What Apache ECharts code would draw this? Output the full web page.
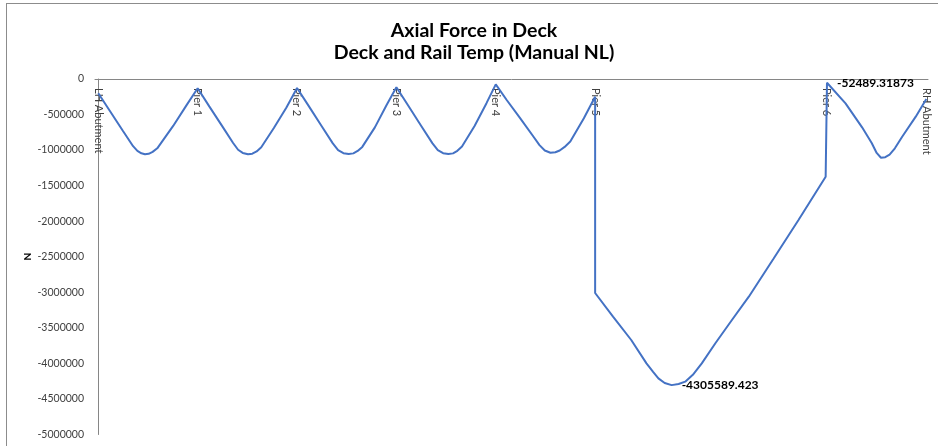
<!DOCTYPE html>
<html>
<head>
<meta charset="utf-8">
<script src="https://cdn.jsdelivr.net/npm/echarts@6/dist/echarts.min.js"></script>
<style>
  html, body { margin: 0; padding: 0; background: #ffffff; overflow: hidden; }
  #frame { position: absolute; left: 6px; top: 3px; width: 960px; height: 470px;
           border-left: 1px solid #8c8c8c; border-top: 1px solid #8c8c8c; }
  #chart { position: absolute; left: 0; top: 0; width: 938px; height: 446px; }
</style>
</head>
<body>
<div id="frame"></div>
<div id="chart"></div>
<script>
// Supports along the deck (chainage in m)
const supportNames = ['LH Abutment', 'Pier 1', 'Pier 2', 'Pier 3', 'Pier 4', 'Pier 5', 'Pier 6', 'RH Abutment'];
const supportStations = [0, 30, 60, 90, 120, 150, 220, 250];

// Deck axial force (N) against chainage (m)
const stations = [
  0, 3.5, 7.5, 10.5, 11.8, 13.0, 14.1, 15.2, 16.4, 17.8, 22.6, 26.7,
  30, 33.5, 37.5, 40.7, 42.2, 43.6, 45.2, 46.5, 47.8, 49.2, 53.0, 56.8,
  60, 63.5, 67.5, 70.8, 72.4, 74.0, 75.6, 77.0, 78.3, 79.7, 83.5, 87.0,
  90, 93.5, 97.5, 100.9, 102.5, 104.1, 105.7, 107.1, 108.4, 109.8, 113.6, 117.2,
  120, 123.3, 127.4, 131.4, 133.2, 134.8, 136.5, 138.0, 139.3, 140.8, 142.5, 146.6,
  150, 150, 155.4, 160.9, 165.5, 167.5, 169.1, 171.0, 173.1, 175.2, 177.2, 179.5,
  182.2, 186.3, 191.3, 196.4, 203.8, 211.4, 219.6,
  220, 225.6, 230.6, 233.5, 235.0, 236.3, 237.6, 238.9, 240.5, 242.7, 246.8, 250
];
const axialForce = [
  -201000, -450000, -735000, -945000, -1012000, -1045000, -1058000, -1052000, -1025000, -975000, -660000, -364000,
  -131000, -385000, -670000, -900000, -995000, -1040000, -1059000, -1050000, -1018000, -960000, -690000, -400000,
  -127000, -378000, -668000, -905000, -1000000, -1043000, -1055000, -1046000, -1012000, -955000, -680000, -370000,
  -117000, -370000, -660000, -905000, -1000000, -1043000, -1055000, -1046000, -1010000, -950000, -660000, -340000,
  -75000, -295000, -553000, -812000, -930000, -1005000, -1037000, -1030000, -1005000, -955000, -880000, -553000,
  -249000, -3010000, -3343000, -3671000, -3999000, -4120000, -4210000, -4275000, -4305589.423, -4290000, -4257000, -4160000,
  -3999000, -3717000, -3390000, -3062000, -2532000, -1983000, -1374000,
  -52489.31873, -342000, -680000, -900000, -1040000, -1107000, -1100000, -1065000, -975000, -812000, -530000, -281000
];

// Values annotated on the chart
const labelledForces = [-52489.31873, -4305589.423];

const yMin = -5000000, yMax = 0, yStep = 500000;
const xMin = -1, xMax = 250.5;

const FONT = 'Lato, "Noto Sans", sans-serif';

const seriesData = stations.map((s, i) => {
  const v = axialForce[i];
  if (labelledForces.indexOf(v) >= 0) {
    return {
      value: [s, v],
      label: {
        show: true, position: 'right', distance: 10,
        formatter: p => String(p.value[1]),
        fontFamily: FONT, fontWeight: 'bold', fontSize: 12, color: '#000000'
      }
    };
  }
  return [s, v];
});

const chart = echarts.init(document.getElementById('chart'), null, { renderer: 'canvas' });
chart.setOption({
  animation: false,
  backgroundColor: 'transparent',
  title: {
    text: 'Axial Force in Deck\nDeck and Rail Temp (Manual NL)',
    left: 469, top: 15, textAlign: 'center',
    textStyle: { fontFamily: FONT, fontWeight: 'bold', fontSize: 19.5, lineHeight: 21.5, color: '#000000' }
  },
  grid: { left: 95, right: 10, top: 79, bottom: 11.5, containLabel: false },
  xAxis: {
    type: 'value', position: 'top', min: xMin, max: xMax,
    axisLine: { show: true, onZero: false, lineStyle: { color: '#868686', width: 1 } },
    axisTick: { show: false },
    splitLine: { show: false },
    axisLabel: {
      show: true, inside: true, rotate: 90, margin: 9,
      customValues: supportStations,
      formatter: v => supportNames[supportStations.indexOf(v)] || '',
      fontFamily: FONT, fontSize: 11, color: '#404040'
    }
  },
  yAxis: {
    type: 'value', min: yMin, max: yMax, interval: yStep,
    name: 'N', nameLocation: 'middle', nameGap: 62, nameMoveOverlap: false,
    nameTextStyle: { fontFamily: FONT, fontWeight: 'bold', fontSize: 10, color: '#000000' },
    axisLine: { show: true, lineStyle: { color: '#868686', width: 1 } },
    axisTick: { show: false },
    splitLine: { show: false },
    axisLabel: {
      margin: 11, fontFamily: FONT, fontSize: 10.5, color: '#404040',
      formatter: v => String(v)
    }
  },
  series: [{
    type: 'line',
    data: seriesData,
    showSymbol: true,
    symbol: 'circle',
    symbolSize: 0,
    lineStyle: { color: '#4472C4', width: 2 },
    itemStyle: { color: '#4472C4' }
  }]
});
</script>
</body>
</html>
